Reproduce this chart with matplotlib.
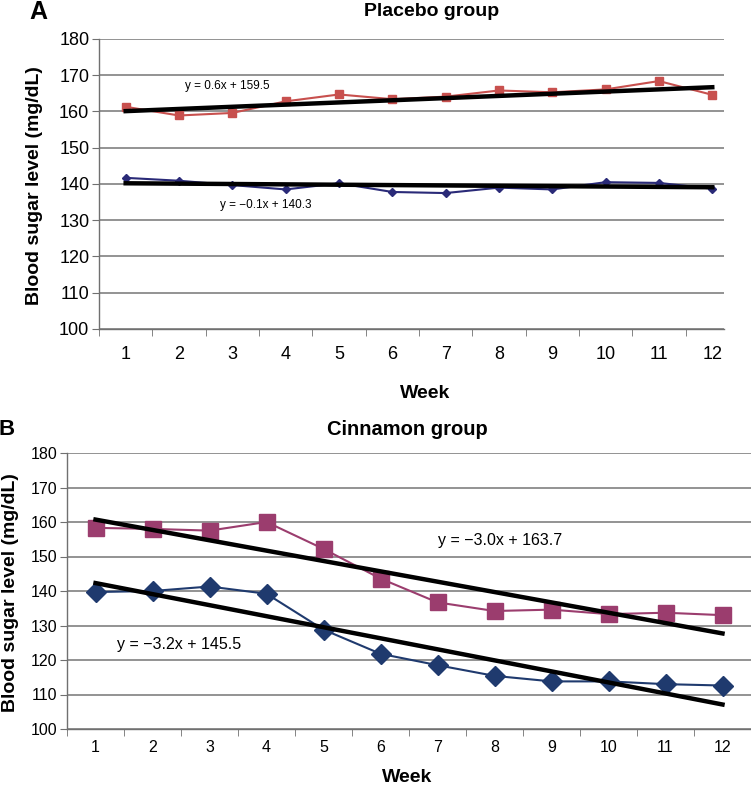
import numpy as np
import matplotlib
matplotlib.use("Agg")
import matplotlib.pyplot as plt

plt.rcParams['font.family'] = ['Liberation Sans', 'DejaVu Sans']

weeks = np.arange(1, 13)

# Panel A - placebo group
placebo_upper = [161.3, 158.9, 159.6, 162.8, 164.7, 163.4, 164.1, 165.8, 165.3, 166.1, 168.4, 164.6]
placebo_lower = [141.7, 140.9, 139.7, 138.5, 140.2, 137.8, 137.5, 139.0, 138.5, 140.5, 140.3, 138.7]
placebo_fit_upper = (0.6, 159.5)
placebo_fit_lower = (-0.1, 140.3)

# Panel B - cinnamon group
cinnamon_upper = [158.3, 158.0, 157.5, 160.0, 152.2, 143.6, 136.7, 134.2, 134.6, 133.3, 133.7, 133.0]
cinnamon_lower = [139.7, 140.0, 141.3, 139.2, 128.8, 121.8, 118.5, 115.4, 113.8, 113.8, 113.0, 112.6]
cinnamon_fit_upper = (-3.0, 163.7)
cinnamon_fit_lower = (-3.2, 145.5)

yticks = [100, 110, 120, 130, 140, 150, 160, 170, 180]

W, H = 751, 786
fig = plt.figure(figsize=(W / 100, H / 100), dpi=100)


def px_axes(left, top, right, bottom):
    return fig.add_axes([left / W, 1 - bottom / H, (right - left) / W, (bottom - top) / H])


def style_axes(ax, xmax, fs):
    ax.set_ylim(100, 180)
    ax.set_xlim(0.5, xmax)
    ax.set_yticks(yticks)
    ax.set_xticks(weeks)
    ax.set_xticks(np.arange(0.5, 12.5, 1), minor=True)
    ax.tick_params(axis='x', which='major', length=0, labelsize=fs, pad=12)
    ax.tick_params(axis='x', which='minor', length=5, color='#707070', direction='out')
    ax.tick_params(axis='y', length=5, color='#707070', labelsize=fs, pad=2)
    ax.grid(axis='y', color='#808080', linewidth=1.2)
    ax.set_axisbelow(True)
    for s in ['top', 'right']:
        ax.spines[s].set_visible(False)
    for s in ['left', 'bottom']:
        ax.spines[s].set_color('#707070')
        ax.spines[s].set_linewidth(1.0)


def trend(ax, coef):
    m, b = coef
    xs = np.array([1, 12])
    ax.plot(xs, m * xs + b, color='black', linewidth=3.2, zorder=4)


# ---- Panel A ----
axA = px_axes(99, 39, 724, 329)
style_axes(axA, 12.22, 13)
axA.plot(weeks, placebo_upper, color='#C8504E', marker='s', markersize=6, linewidth=1.5, zorder=3)
axA.plot(weeks, placebo_lower, color='#2A2A78', marker='D', markersize=4.5, linewidth=1.5, zorder=3)
trend(axA, placebo_fit_upper)
trend(axA, placebo_fit_lower)
axA.text(2.9, 167.0, 'y = 0.6x + 159.5', fontsize=8.5, ha='center', va='center')
axA.text(3.63, 134.2, 'y = \u22120.1x + 140.3', fontsize=8.5, ha='center', va='center')

# ---- Panel B ----
axB = px_axes(67, 453, 751, 729)
style_axes(axB, 12.5, 11.5)
axB.tick_params(axis='x', which='major', pad=8)
axB.plot(weeks, cinnamon_upper, color='#9B3D6E', marker='s', markersize=11, linewidth=1.5, zorder=3)
axB.plot(weeks, cinnamon_lower, color='#1F3A6E', marker='D', markersize=10, linewidth=1.5, zorder=3)
trend(axB, cinnamon_fit_upper)
trend(axB, cinnamon_fit_lower)
axB.text(8.1, 154.5, 'y = \u22123.0x + 163.7', fontsize=11.5, ha='center', va='center')
axB.text(2.47, 124.6, 'y = \u22123.2x + 145.5', fontsize=11.5, ha='center', va='center')


def ftext(x, y, s, **kw):
    fig.text(x / W, 1 - y / H, s, ha='center', va='center', **kw)


ftext(38, 12, 'A', fontsize=18, fontweight='bold')
ftext(432, 12, 'Placebo group', fontsize=14, fontweight='bold')
ftext(35, 186, 'Blood sugar level (mg/dL)', fontsize=14, fontweight='bold', rotation=90)
ftext(425, 393, 'Week', fontsize=14, fontweight='bold')

ftext(7, 430, 'B', fontsize=16, fontweight='bold')
ftext(407, 430, 'Cinnamon group', fontsize=14.5, fontweight='bold')
ftext(11, 593, 'Blood sugar level (mg/dL)', fontsize=14, fontweight='bold', rotation=90)
ftext(407, 777, 'Week', fontsize=14, fontweight='bold')

fig.savefig('out.png', dpi=100)
